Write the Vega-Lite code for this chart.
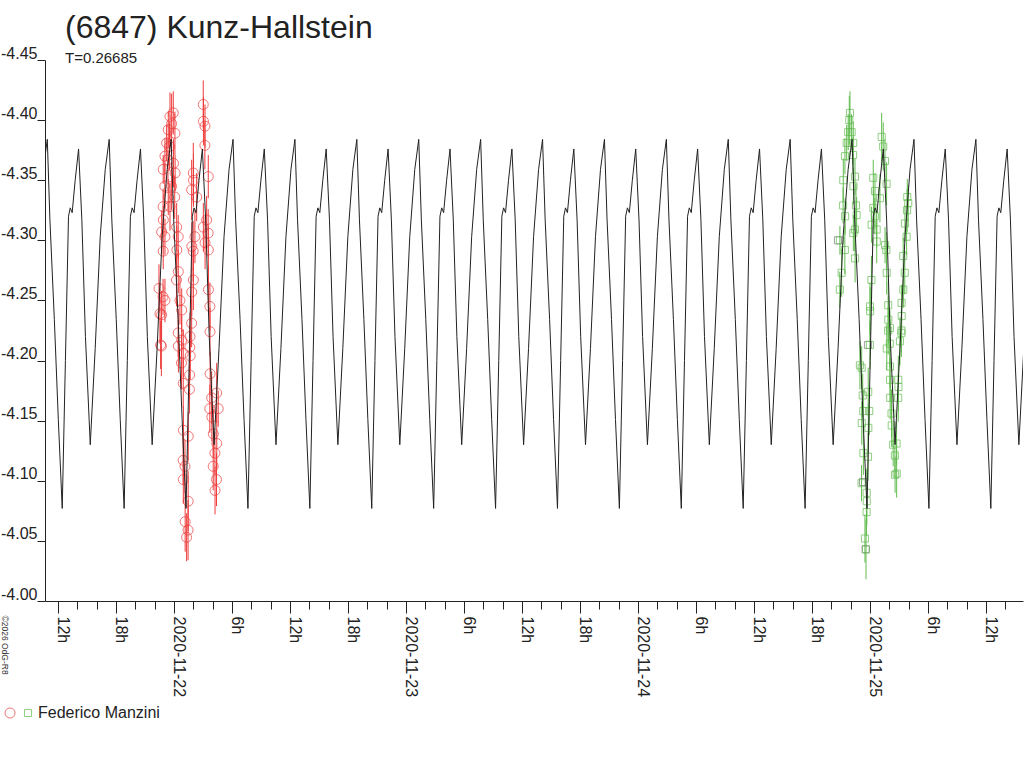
{
  "$schema": "https://vega.github.io/schema/vega-lite/v6.json",
  "autosize": "none",
  "width": 978,
  "height": 541,
  "padding": {"left": 45, "top": 60, "right": 1, "bottom": 167},
  "background": "white",
  "title": {
    "text": "(6847) Kunz-Hallstein",
    "subtitle": "T=0.26685",
    "anchor": "start",
    "frame": "group",
    "dx": 20,
    "offset": -22,
    "font": "Liberation Sans",
    "fontSize": 32,
    "fontWeight": "normal",
    "color": "#222",
    "subtitleFont": "Liberation Sans",
    "subtitleFontSize": 15,
    "subtitleColor": "#222",
    "subtitlePadding": 6
  },
  "datasets": {
    "model": [
      {"t":-13.512,"m":-4.359},{"t":-13.102,"m":-4.384},{"t":-12.832,"m":-4.317},{"t":-12.372,"m":-4.234},{"t":-11.962,"m":-4.151},
      {"t":-11.558,"m":-4.077},{"t":-11.228,"m":-4.2},{"t":-10.908,"m":-4.32},{"t":-10.728,"m":-4.327},{"t":-10.528,"m":-4.323},{"t":-10.218,"m":-4.35},{"t":-9.868,"m":-4.376},{"t":-9.528,"m":-4.317},{"t":-9.158,"m":-4.22},{"t":-8.658,"m":-4.13},{"t":-8.148,"m":-4.21},{"t":-7.628,"m":-4.303},{"t":-7.108,"m":-4.359},{"t":-6.698,"m":-4.384},{"t":-6.428,"m":-4.317},{"t":-5.968,"m":-4.234},{"t":-5.558,"m":-4.151},
      {"t":-5.154,"m":-4.077},{"t":-4.824,"m":-4.2},{"t":-4.504,"m":-4.32},{"t":-4.324,"m":-4.327},{"t":-4.124,"m":-4.323},{"t":-3.814,"m":-4.35},{"t":-3.464,"m":-4.376},{"t":-3.124,"m":-4.317},{"t":-2.754,"m":-4.22},{"t":-2.254,"m":-4.13},{"t":-1.744,"m":-4.21},{"t":-1.224,"m":-4.303},{"t":-0.704,"m":-4.359},{"t":-0.294,"m":-4.384},{"t":-0.024,"m":-4.317},{"t":0.436,"m":-4.234},{"t":0.846,"m":-4.151},
      {"t":1.25,"m":-4.077},{"t":1.58,"m":-4.2},{"t":1.9,"m":-4.32},{"t":2.08,"m":-4.327},{"t":2.28,"m":-4.323},{"t":2.59,"m":-4.35},{"t":2.94,"m":-4.376},{"t":3.28,"m":-4.317},{"t":3.65,"m":-4.22},{"t":4.15,"m":-4.13},{"t":4.66,"m":-4.21},{"t":5.18,"m":-4.303},{"t":5.7,"m":-4.359},{"t":6.11,"m":-4.384},{"t":6.38,"m":-4.317},{"t":6.84,"m":-4.234},{"t":7.25,"m":-4.151},
      {"t":7.654,"m":-4.077},{"t":7.984,"m":-4.2},{"t":8.304,"m":-4.32},{"t":8.484,"m":-4.327},{"t":8.684,"m":-4.323},{"t":8.994,"m":-4.35},{"t":9.344,"m":-4.376},{"t":9.684,"m":-4.317},{"t":10.054,"m":-4.22},{"t":10.554,"m":-4.13},{"t":11.064,"m":-4.21},{"t":11.584,"m":-4.303},{"t":12.104,"m":-4.359},{"t":12.514,"m":-4.384},{"t":12.784,"m":-4.317},{"t":13.244,"m":-4.234},{"t":13.654,"m":-4.151},
      {"t":14.058,"m":-4.077},{"t":14.388,"m":-4.2},{"t":14.708,"m":-4.32},{"t":14.888,"m":-4.327},{"t":15.088,"m":-4.323},{"t":15.398,"m":-4.35},{"t":15.748,"m":-4.376},{"t":16.088,"m":-4.317},{"t":16.458,"m":-4.22},{"t":16.958,"m":-4.13},{"t":17.468,"m":-4.21},{"t":17.988,"m":-4.303},{"t":18.508,"m":-4.359},{"t":18.918,"m":-4.384},{"t":19.188,"m":-4.317},{"t":19.648,"m":-4.234},{"t":20.058,"m":-4.151},
      {"t":20.462,"m":-4.077},{"t":20.792,"m":-4.2},{"t":21.112,"m":-4.32},{"t":21.292,"m":-4.327},{"t":21.492,"m":-4.323},{"t":21.802,"m":-4.35},{"t":22.152,"m":-4.376},{"t":22.492,"m":-4.317},{"t":22.862,"m":-4.22},{"t":23.362,"m":-4.13},{"t":23.872,"m":-4.21},{"t":24.392,"m":-4.303},{"t":24.912,"m":-4.359},{"t":25.322,"m":-4.384},{"t":25.592,"m":-4.317},{"t":26.052,"m":-4.234},{"t":26.462,"m":-4.151},
      {"t":26.866,"m":-4.077},{"t":27.196,"m":-4.2},{"t":27.516,"m":-4.32},{"t":27.696,"m":-4.327},{"t":27.896,"m":-4.323},{"t":28.206,"m":-4.35},{"t":28.556,"m":-4.376},{"t":28.896,"m":-4.317},{"t":29.266,"m":-4.22},{"t":29.766,"m":-4.13},{"t":30.276,"m":-4.21},{"t":30.796,"m":-4.303},{"t":31.316,"m":-4.359},{"t":31.726,"m":-4.384},{"t":31.996,"m":-4.317},{"t":32.456,"m":-4.234},{"t":32.866,"m":-4.151},
      {"t":33.27,"m":-4.077},{"t":33.6,"m":-4.2},{"t":33.92,"m":-4.32},{"t":34.1,"m":-4.327},{"t":34.3,"m":-4.323},{"t":34.61,"m":-4.35},{"t":34.96,"m":-4.376},{"t":35.3,"m":-4.317},{"t":35.67,"m":-4.22},{"t":36.17,"m":-4.13},{"t":36.68,"m":-4.21},{"t":37.2,"m":-4.303},{"t":37.72,"m":-4.359},{"t":38.13,"m":-4.384},{"t":38.4,"m":-4.317},{"t":38.86,"m":-4.234},{"t":39.27,"m":-4.151},
      {"t":39.674,"m":-4.077},{"t":40.004,"m":-4.2},{"t":40.324,"m":-4.32},{"t":40.504,"m":-4.327},{"t":40.704,"m":-4.323},{"t":41.014,"m":-4.35},{"t":41.364,"m":-4.376},{"t":41.704,"m":-4.317},{"t":42.074,"m":-4.22},{"t":42.574,"m":-4.13},{"t":43.084,"m":-4.21},{"t":43.604,"m":-4.303},{"t":44.124,"m":-4.359},{"t":44.534,"m":-4.384},{"t":44.804,"m":-4.317},{"t":45.264,"m":-4.234},{"t":45.674,"m":-4.151},
      {"t":46.078,"m":-4.077},{"t":46.408,"m":-4.2},{"t":46.728,"m":-4.32},{"t":46.908,"m":-4.327},{"t":47.108,"m":-4.323},{"t":47.418,"m":-4.35},{"t":47.768,"m":-4.376},{"t":48.108,"m":-4.317},{"t":48.478,"m":-4.22},{"t":48.978,"m":-4.13},{"t":49.488,"m":-4.21},{"t":50.008,"m":-4.303},{"t":50.528,"m":-4.359},{"t":50.938,"m":-4.384},{"t":51.208,"m":-4.317},{"t":51.668,"m":-4.234},{"t":52.078,"m":-4.151},
      {"t":52.482,"m":-4.077},{"t":52.812,"m":-4.2},{"t":53.132,"m":-4.32},{"t":53.312,"m":-4.327},{"t":53.512,"m":-4.323},{"t":53.822,"m":-4.35},{"t":54.172,"m":-4.376},{"t":54.512,"m":-4.317},{"t":54.882,"m":-4.22},{"t":55.382,"m":-4.13},{"t":55.892,"m":-4.21},{"t":56.412,"m":-4.303},{"t":56.932,"m":-4.359},{"t":57.342,"m":-4.384},{"t":57.612,"m":-4.317},{"t":58.072,"m":-4.234},{"t":58.482,"m":-4.151},
      {"t":58.886,"m":-4.077},{"t":59.216,"m":-4.2},{"t":59.536,"m":-4.32},{"t":59.716,"m":-4.327},{"t":59.916,"m":-4.323},{"t":60.226,"m":-4.35},{"t":60.576,"m":-4.376},{"t":60.916,"m":-4.317},{"t":61.286,"m":-4.22},{"t":61.786,"m":-4.13},{"t":62.296,"m":-4.21},{"t":62.816,"m":-4.303},{"t":63.336,"m":-4.359},{"t":63.746,"m":-4.384},{"t":64.016,"m":-4.317},{"t":64.476,"m":-4.234},{"t":64.886,"m":-4.151},
      {"t":65.29,"m":-4.077},{"t":65.62,"m":-4.2},{"t":65.94,"m":-4.32},{"t":66.12,"m":-4.327},{"t":66.32,"m":-4.323},{"t":66.63,"m":-4.35},{"t":66.98,"m":-4.376},{"t":67.32,"m":-4.317},{"t":67.69,"m":-4.22},{"t":68.19,"m":-4.13},{"t":68.7,"m":-4.21},{"t":69.22,"m":-4.303},{"t":69.74,"m":-4.359},{"t":70.15,"m":-4.384},{"t":70.42,"m":-4.317},{"t":70.88,"m":-4.234},{"t":71.29,"m":-4.151},
      {"t":71.694,"m":-4.077},{"t":72.024,"m":-4.2},{"t":72.344,"m":-4.32},{"t":72.524,"m":-4.327},{"t":72.724,"m":-4.323},{"t":73.034,"m":-4.35},{"t":73.384,"m":-4.376},{"t":73.724,"m":-4.317},{"t":74.094,"m":-4.22},{"t":74.594,"m":-4.13},{"t":75.104,"m":-4.21},{"t":75.624,"m":-4.303},{"t":76.144,"m":-4.359},{"t":76.554,"m":-4.384},{"t":76.824,"m":-4.317},{"t":77.284,"m":-4.234},{"t":77.694,"m":-4.151},
      {"t":78.098,"m":-4.077},{"t":78.428,"m":-4.2},{"t":78.748,"m":-4.32},{"t":78.928,"m":-4.327},{"t":79.128,"m":-4.323},{"t":79.438,"m":-4.35},{"t":79.788,"m":-4.376},{"t":80.128,"m":-4.317},{"t":80.498,"m":-4.22},{"t":80.998,"m":-4.13},{"t":81.508,"m":-4.21},{"t":82.028,"m":-4.303},{"t":82.548,"m":-4.359},{"t":82.958,"m":-4.384},{"t":83.228,"m":-4.317},{"t":83.688,"m":-4.234},{"t":84.098,"m":-4.151},
      {"t":84.502,"m":-4.077},{"t":84.832,"m":-4.2},{"t":85.152,"m":-4.32},{"t":85.332,"m":-4.327},{"t":85.532,"m":-4.323},{"t":85.842,"m":-4.35},{"t":86.192,"m":-4.376},{"t":86.532,"m":-4.317},{"t":86.902,"m":-4.22},{"t":87.402,"m":-4.13},{"t":87.912,"m":-4.21}
    ],
    "obs": [
      {"s":"R","t":-0.07,"m":-4.406,"e":0.018},{"s":"R","t":-0.41,"m":-4.403,"e":0.02},{"s":"R","t":-0.24,"m":-4.397,"e":0.025},{"s":"R","t":-0.59,"m":-4.392,"e":0.015},
      {"s":"R","t":0.1,"m":-4.389,"e":0.018},{"s":"R","t":-0.76,"m":-4.381,"e":0.015},{"s":"R","t":-0.45,"m":-4.378,"e":0.02},{"s":"R","t":-0.93,"m":-4.37,"e":0.015},
      {"s":"R","t":-0.62,"m":-4.367,"e":0.018},{"s":"R","t":-0.05,"m":-4.364,"e":0.02},{"s":"R","t":-1.11,"m":-4.359,"e":0.012},{"s":"R","t":0.12,"m":-4.356,"e":0.015},
      {"s":"R","t":-0.95,"m":-4.345,"e":0.018},{"s":"R","t":-0.24,"m":-4.345,"e":0.02},{"s":"R","t":-0.59,"m":-4.336,"e":0.015},{"s":"R","t":0.08,"m":-4.336,"e":0.018},
      {"s":"R","t":-1.12,"m":-4.328,"e":0.015},{"s":"R","t":-0.41,"m":-4.328,"e":0.02},{"s":"R","t":-1.1,"m":-4.317,"e":0.012},{"s":"R","t":-1.27,"m":-4.307,"e":0.018},
      {"s":"R","t":0.28,"m":-4.311,"e":0.02},{"s":"R","t":-0.93,"m":-4.303,"e":0.015},{"s":"R","t":0.44,"m":-4.303,"e":0.018},{"s":"R","t":-1.11,"m":-4.291,"e":0.015},
      {"s":"R","t":0.3,"m":-4.292,"e":0.02},{"s":"R","t":0.45,"m":-4.274,"e":0.018},{"s":"R","t":0.26,"m":-4.267,"e":0.022},{"s":"R","t":-1.13,"m":-4.253,"e":0.015},
      {"s":"R","t":-0.93,"m":-4.25,"e":0.018},{"s":"R","t":0.62,"m":-4.25,"e":0.02},{"s":"R","t":0.8,"m":-4.242,"e":0.018},{"s":"R","t":-1.45,"m":-4.239,"e":0.025},
      {"s":"R","t":-1.28,"m":-4.238,"e":0.02},{"s":"R","t":-1.3,"m":-4.212,"e":0.025},{"s":"R","t":-1.38,"m":-4.213,"e":0.02},{"s":"R","t":-1.55,"m":-4.26,"e":0.02},
      {"s":"R","t":0.44,"m":-4.223,"e":0.02},{"s":"R","t":0.8,"m":-4.217,"e":0.02},{"s":"R","t":1.66,"m":-4.22,"e":0.02},{"s":"R","t":1.83,"m":-4.231,"e":0.02},
      {"s":"R","t":0.46,"m":-4.212,"e":0.022},{"s":"R","t":1.64,"m":-4.211,"e":0.018},{"s":"R","t":0.96,"m":-4.206,"e":0.02},{"s":"R","t":1.68,"m":-4.204,"e":0.02},
      {"s":"R","t":0.78,"m":-4.198,"e":0.022},{"s":"R","t":1.62,"m":-4.188,"e":0.02},{"s":"R","t":0.96,"m":-4.181,"e":0.02},{"s":"R","t":1.6,"m":-4.176,"e":0.02},
      {"s":"R","t":0.98,"m":-4.142,"e":0.02},{"s":"R","t":1.48,"m":-4.137,"e":0.02},{"s":"R","t":0.95,"m":-4.117,"e":0.02},{"s":"R","t":1.14,"m":-4.112,"e":0.022},
      {"s":"R","t":0.97,"m":-4.101,"e":0.02},{"s":"R","t":1.47,"m":-4.083,"e":0.025},{"s":"R","t":1.16,"m":-4.066,"e":0.025},{"s":"R","t":1.46,"m":-4.059,"e":0.025},
      {"s":"R","t":1.31,"m":-4.053,"e":0.02},
      {"s":"R","t":3.03,"m":-4.413,"e":0.02},{"s":"R","t":3.05,"m":-4.399,"e":0.02},{"s":"R","t":3.21,"m":-4.395,"e":0.018},{"s":"R","t":3.2,"m":-4.379,"e":0.02},
      {"s":"R","t":2.0,"m":-4.356,"e":0.025},{"s":"R","t":3.55,"m":-4.353,"e":0.018},{"s":"R","t":2.02,"m":-4.35,"e":0.022},{"s":"R","t":1.83,"m":-4.342,"e":0.025},
      {"s":"R","t":2.35,"m":-4.336,"e":0.02},{"s":"R","t":3.38,"m":-4.317,"e":0.02},{"s":"R","t":3.04,"m":-4.311,"e":0.02},{"s":"R","t":2.17,"m":-4.303,"e":0.022},
      {"s":"R","t":3.54,"m":-4.306,"e":0.02},{"s":"R","t":3.22,"m":-4.298,"e":0.022},{"s":"R","t":1.85,"m":-4.295,"e":0.02},{"s":"R","t":1.99,"m":-4.291,"e":0.025},
      {"s":"R","t":3.56,"m":-4.292,"e":0.018},{"s":"R","t":1.84,"m":-4.257,"e":0.02},{"s":"R","t":3.57,"m":-4.259,"e":0.02},{"s":"R","t":3.72,"m":-4.245,"e":0.02},
      {"s":"R","t":2.01,"m":-4.267,"e":0.025},
      {"s":"R","t":3.73,"m":-4.224,"e":0.02},{"s":"R","t":3.74,"m":-4.189,"e":0.018},{"s":"R","t":4.42,"m":-4.173,"e":0.025},{"s":"R","t":3.9,"m":-4.169,"e":0.022},
      {"s":"R","t":3.71,"m":-4.16,"e":0.02},{"s":"R","t":4.58,"m":-4.16,"e":0.015},{"s":"R","t":3.92,"m":-4.153,"e":0.02},{"s":"R","t":4.07,"m":-4.139,"e":0.02},
      {"s":"R","t":4.43,"m":-4.131,"e":0.02},{"s":"R","t":4.24,"m":-4.123,"e":0.018},{"s":"R","t":4.06,"m":-4.112,"e":0.02},{"s":"R","t":4.4,"m":-4.101,"e":0.022},
      {"s":"R","t":4.25,"m":-4.092,"e":0.02},
      {"s":"G","t":69.93,"m":-4.406,"e":0.018},{"s":"G","t":69.86,"m":-4.4,"e":0.02},{"s":"G","t":69.75,"m":-4.39,"e":0.015},{"s":"G","t":70.1,"m":-4.39,"e":0.015},
      {"s":"G","t":69.59,"m":-4.381,"e":0.015},{"s":"G","t":70.27,"m":-4.381,"e":0.018},{"s":"G","t":70.25,"m":-4.371,"e":0.015},{"s":"G","t":69.41,"m":-4.37,"e":0.015},
      {"s":"G","t":69.24,"m":-4.35,"e":0.018},{"s":"G","t":70.45,"m":-4.353,"e":0.015},{"s":"G","t":70.29,"m":-4.345,"e":0.015},{"s":"G","t":69.22,"m":-4.329,"e":0.015},
      {"s":"G","t":70.55,"m":-4.329,"e":0.018},{"s":"G","t":69.43,"m":-4.32,"e":0.015},{"s":"G","t":70.62,"m":-4.321,"e":0.015},{"s":"G","t":70.28,"m":-4.306,"e":0.015},
      {"s":"G","t":70.44,"m":-4.309,"e":0.018},{"s":"G","t":68.89,"m":-4.3,"e":0.012},{"s":"G","t":69.4,"m":-4.292,"e":0.02},{"s":"G","t":70.46,"m":-4.285,"e":0.02},
      {"s":"G","t":69.07,"m":-4.273,"e":0.02},{"s":"G","t":68.88,"m":-4.259,"e":0.015},
      {"s":"G","t":73.37,"m":-4.378,"e":0.02},{"s":"G","t":73.21,"m":-4.386,"e":0.02},{"s":"G","t":73.55,"m":-4.366,"e":0.018},{"s":"G","t":72.34,"m":-4.352,"e":0.015},
      {"s":"G","t":73.72,"m":-4.347,"e":0.018},{"s":"G","t":72.52,"m":-4.341,"e":0.015},{"s":"G","t":73.03,"m":-4.335,"e":0.02},{"s":"G","t":72.36,"m":-4.327,"e":0.015},
      {"s":"G","t":72.5,"m":-4.32,"e":0.015},{"s":"G","t":72.17,"m":-4.313,"e":0.015},{"s":"G","t":72.69,"m":-4.309,"e":0.015},{"s":"G","t":72.7,"m":-4.299,"e":0.018},
      {"s":"G","t":73.56,"m":-4.296,"e":0.015},{"s":"G","t":73.7,"m":-4.292,"e":0.015},{"s":"G","t":73.73,"m":-4.273,"e":0.018},{"s":"G","t":72.15,"m":-4.267,"e":0.02},
      {"s":"G","t":72.0,"m":-4.245,"e":0.02},{"s":"G","t":72.02,"m":-4.241,"e":0.02},{"s":"G","t":73.89,"m":-4.246,"e":0.02},{"s":"G","t":73.9,"m":-4.234,"e":0.02},
      {"s":"G","t":74.06,"m":-4.227,"e":0.015},
      {"s":"G","t":75.86,"m":-4.336,"e":0.015},{"s":"G","t":75.96,"m":-4.331,"e":0.015},{"s":"G","t":75.84,"m":-4.325,"e":0.018},{"s":"G","t":75.62,"m":-4.314,"e":0.015},
      {"s":"G","t":75.79,"m":-4.303,"e":0.015},{"s":"G","t":75.44,"m":-4.287,"e":0.015},{"s":"G","t":75.6,"m":-4.273,"e":0.018},{"s":"G","t":75.45,"m":-4.259,"e":0.015},
      {"s":"G","t":75.27,"m":-4.248,"e":0.015},{"s":"G","t":75.28,"m":-4.237,"e":0.015},{"s":"G","t":75.26,"m":-4.225,"e":0.018},
      {"s":"G","t":71.99,"m":-4.213,"e":0.02},{"s":"G","t":70.96,"m":-4.196,"e":0.02},{"s":"G","t":71.14,"m":-4.194,"e":0.018},{"s":"G","t":71.82,"m":-4.174,"e":0.02},
      {"s":"G","t":71.25,"m":-4.171,"e":0.018},{"s":"G","t":71.92,"m":-4.158,"e":0.02},{"s":"G","t":71.31,"m":-4.158,"e":0.018},{"s":"G","t":71.15,"m":-4.148,"e":0.018},
      {"s":"G","t":71.83,"m":-4.144,"e":0.02},{"s":"G","t":71.32,"m":-4.123,"e":0.018},{"s":"G","t":71.8,"m":-4.12,"e":0.02},{"s":"G","t":71.13,"m":-4.098,"e":0.015},
      {"s":"G","t":71.66,"m":-4.09,"e":0.02},{"s":"G","t":71.67,"m":-4.083,"e":0.02},{"s":"G","t":71.65,"m":-4.074,"e":0.02},{"s":"G","t":71.48,"m":-4.052,"e":0.02},
      {"s":"G","t":71.59,"m":-4.043,"e":0.025},
      {"s":"G","t":73.88,"m":-4.225,"e":0.02},{"s":"G","t":73.74,"m":-4.21,"e":0.018},{"s":"G","t":74.05,"m":-4.214,"e":0.02},{"s":"G","t":75.25,"m":-4.223,"e":0.02},
      {"s":"G","t":75.1,"m":-4.216,"e":0.02},{"s":"G","t":74.07,"m":-4.195,"e":0.018},{"s":"G","t":74.08,"m":-4.184,"e":0.018},{"s":"G","t":74.93,"m":-4.184,"e":0.02},
      {"s":"G","t":74.95,"m":-4.178,"e":0.02},{"s":"G","t":74.09,"m":-4.169,"e":0.018},{"s":"G","t":74.92,"m":-4.169,"e":0.02},{"s":"G","t":74.23,"m":-4.156,"e":0.02},
      {"s":"G","t":74.25,"m":-4.146,"e":0.018},{"s":"G","t":74.4,"m":-4.13,"e":0.018},{"s":"G","t":74.75,"m":-4.131,"e":0.018},{"s":"G","t":74.58,"m":-4.121,"e":0.018},
      {"s":"G","t":74.6,"m":-4.105,"e":0.015},{"s":"G","t":74.76,"m":-4.106,"e":0.02},
      {"s":"K","t":68.69,"m":-4.3,"e":0},{"s":"K","t":71.79,"m":-4.213,"e":0},{"s":"K","t":71.28,"m":-4.099,"e":0},{"s":"K","t":71.55,"m":-4.043,"e":0}
    ]
  },
  "layer": [
    {
      "data": {"name": "obs"},
      "transform": [{"filter": "datum.s === 'R'"}],
      "mark": {"type": "errorbar", "thickness": 1},
      "encoding": {
        "x": {
          "field": "t",
          "type": "quantitative",
          "title": null,
          "scale": {"domain": [-13.34, 87.83], "nice": false, "zero": false},
          "axis": {
            "values": [-12,-10,-8,-6,-4,-2,0,2,4,6,8,10,12,14,16,18,20,22,24,26,28,30,32,34,36,38,40,42,44,46,48,50,52,54,56,58,60,62,64,66,68,70,72,74,76,78,80,82,84,86],
            "tickCount": 200,
            "labelExpr": "datum.value % 6 !== 0 ? '' : (((datum.value % 24) + 24) % 24 === 0 ? '2020-11-' + (22 + floor(datum.value / 24)) : (((datum.value % 24) + 24) % 24) + 'h')",
            "grid": false,
            "labelAngle": 90,
            "labelAlign": "left",
            "labelBaseline": "alphabetic",
            "labelFont": "Liberation Sans",
            "labelFontSize": 16,
            "labelColor": "#222",
            "labelPadding": 3,
            "labelFlush": false,
            "labelOverlap": false,
            "labelBound": false,
            "tickSize": {"condition": {"test": "datum.value % 6 === 0", "value": 12}, "value": 8},
            "tickColor": "#222",
            "domainColor": "#222"
          }
        },
        "y": {
          "field": "m",
          "type": "quantitative",
          "title": "©2026 OdG-R8",
          "scale": {"domain": [-4.45, -4.0], "reverse": true, "nice": false, "zero": false},
          "axis": {
            "titleAngle": 90,
            "titleAlign": "left",
            "titleBaseline": "middle",
            "titleX": -41,
            "titleY": 555,
            "titleFont": "Liberation Sans",
            "titleFontSize": 8.5,
            "titleFontWeight": "normal",
            "titleColor": "#333",
            "values": [-4.45,-4.4,-4.35,-4.3,-4.25,-4.2,-4.15,-4.1,-4.05,-4.0],
            "labelExpr": "'-' + format(-datum.value, '.2f')",
            "grid": false,
            "labelFont": "Liberation Sans",
            "labelFontSize": 16,
            "labelColor": "#222",
            "labelPadding": 0,
            "labelBaseline": "alphabetic",
            "labelOffset": -2,
            "labelFlush": false,
            "labelOverlap": false,
            "labelBound": false,
            "tickSize": 8,
            "tickColor": "#222",
            "domainColor": "#222"
          }
        },
        "yError": {"field": "e"},
        "color": {"value": "#ee3b3b"}
      }
    },
    {
      "data": {"name": "obs"},
      "transform": [{"filter": "datum.s === 'G'"}],
      "mark": {"type": "errorbar", "thickness": 1},
      "encoding": {
        "x": {"field": "t", "type": "quantitative", "title": null},
        "y": {"field": "m", "type": "quantitative", "title": "©2026 OdG-R8"},
        "yError": {"field": "e"},
        "color": {"value": "#62bb4f"}
      }
    },
    {
      "data": {"name": "obs"},
      "transform": [{"filter": "datum.s === 'K'"}],
      "mark": {"type": "point", "shape": "square", "filled": false, "size": 50, "strokeWidth": 1, "color": "#777"},
      "encoding": {
        "x": {"field": "t", "type": "quantitative", "title": null},
        "y": {"field": "m", "type": "quantitative", "title": "©2026 OdG-R8"}
      }
    },
    {
      "data": {"name": "obs"},
      "transform": [{"filter": "datum.s !== 'K'"}],
      "mark": {"type": "point", "filled": false, "strokeWidth": 1},
      "encoding": {
        "x": {"field": "t", "type": "quantitative", "title": null},
        "y": {"field": "m", "type": "quantitative", "title": "©2026 OdG-R8"},
        "color": {
          "field": "s",
          "type": "nominal",
          "scale": {"domain": ["R", "G"], "range": ["#ee3b3b", "#62bb4f"]},
          "legend": {
            "orient": "none",
            "legendX": -43,
            "legendY": 645,
            "direction": "horizontal",
            "title": null,
            "labelExpr": "datum.value === 'G' ? 'Federico Manzini' : ''",
            "labelFont": "Liberation Sans",
            "labelFontSize": 16,
            "labelColor": "#222",
            "labelOffset": 2,
            "columnPadding": 0,
            "gridAlign": "none",
            "padding": 0,
            "symbolStrokeWidth": 1
          }
        },
        "shape": {
          "field": "s",
          "type": "nominal",
          "scale": {"domain": ["R", "G"], "range": ["circle", "square"]}
        },
        "size": {
          "field": "s",
          "type": "nominal",
          "scale": {"domain": ["R", "G"], "range": [100, 50]}
        }
      }
    },
    {
      "data": {"name": "model"},
      "mark": {"type": "line", "color": "#222", "strokeWidth": 1, "clip": true},
      "encoding": {
        "x": {"field": "t", "type": "quantitative", "title": null},
        "y": {"field": "m", "type": "quantitative", "title": "©2026 OdG-R8"}
      }
    }
  ],
  "config": {
    "font": "Liberation Sans",
    "view": {"stroke": null}
  }
}
